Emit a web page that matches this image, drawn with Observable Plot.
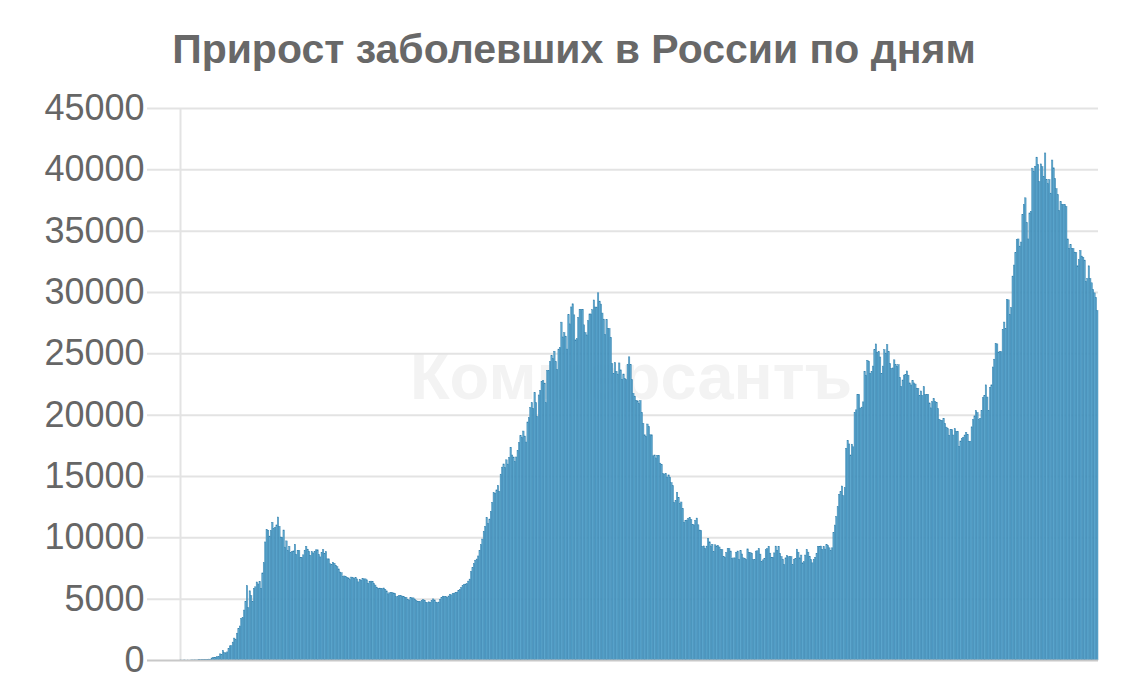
<!DOCTYPE html>
<html>
<head>
<meta charset="utf-8">
<script src="https://cdn.jsdelivr.net/npm/d3@7"></script>
<script src="https://cdn.jsdelivr.net/npm/@observablehq/plot@0.6"></script>
<style>
  html, body { margin: 0; padding: 0; background: #fff; }
  #title { height: 90px; box-sizing: border-box; padding-top: 29px; padding-left: 10px;
    text-align: center; font: bold 41px "Liberation Sans", Arial, sans-serif; color: #686868; line-height: 1; white-space: nowrap; }
  #chart svg { display: block; }
</style>
</head>
<body>
<div id="title">Прирост заболевших в России по дням</div>
<div id="chart"></div>
<script>
// Daily new COVID-19 cases in Russia, 3 Mar 2020 – 13 Dec 2021
const startDate = "2020-03-03";
const mar2020 = [3,0,1,4,0,3,0,3,8,6,14,4,15,30,21,33,52,54,53,61,71,57,163,182,196,228,270,302,500];
const apr2020 = [440,771,601,582,658,954,1154,1175,1459,1786,1667,2186,2558,2774,3388,3448,4070,4785,6060,4268,5642,5236,4774,5849,5966,6361,6198,6411,5841,7099];
const may2020 = [7933,9623,10633,10581,10102,10559,11231,10699,10817,11012,11656,10899,10028,9974,10598,9200,9709,8926,9263,8764,8849,8894,9434,8599,8946,8915,8338,8371,8572,8952,9268];
const jun2020 = [9035,8863,8536,8831,8726,8855,8984,8985,8595,8404,8779,8987,8706,8835,8246,8248,7843,7790,7972,7889,7728,7600,7425,7176,7113,6800,6852,6791,6719,6693];
const jul2020 = [6556,6760,6718,6632,6736,6611,6368,6562,6509,6635,6611,6615,6537,6248,6422,6428,6406,6234,6109,5940,5842,5862,5848,5811,5871,5765,5635,5395,5475,5509,5482];
const aug2020 = [5462,5427,5159,5204,5267,5241,5212,5189,5118,5102,4945,4890,5102,5061,5065,4969,4839,4748,4790,4767,4870,4921,4852,4696,4676,4744,4711,4829,4980,4897,4729];
const sep2020 = [4670,4729,4952,5110,5205,5195,5185,5099,5218,5363,5310,5406,5449,5509,5529,5670,5762,5905,6065,6148,6196,6215,6431,6595,7212,7523,7867,8135,8232,8481];
const oct2020 = [8945,9412,9859,10499,10888,11615,11115,11493,12126,12846,13634,13592,13868,14231,13754,15150,15722,15982,15700,16319,15971,16521,17340,16710,16550,16202,16550,17081,17717,18283,18140];
const nov2020 = [18665,18257,17768,19404,19768,20582,20977,20498,21798,20977,19851,21608,21983,22702,22778,22572,20977,23610,23610,24318,24822,24581,25173,24326,23675,25345,25487,27543,26338,26683];
const dec2020 = [26402,25345,28145,27403,28782,29039,28137,26097,26190,27927,28585,28585,28592,27328,26689,26502,27656,28214,28209,28552,29350,28776,28771,29935,29258,29018,28284,27787,26513,27747,27039];
const jan2021 = [27029,26301,24150,23351,24246,23541,23309,24217,23652,22851,23315,22934,22850,24092,24715,24092,22857,21734,21513,21152,21127,20921,21152,20182,19290,18359,18241,19238,19032,18359,18359];
const feb2021 = [16643,16714,16474,16688,16688,16048,15916,15185,15166,15211,14911,15090,14909,14457,14207,12828,12987,13663,13229,12742,12881,12354,11198,11359,11411,11534,11634,11452];
const mar2021 = [11024,11022,11385,11571,11022,10595,10565,9270,9299,9079,9284,9908,9634,9299,9437,8843,9393,9299,9341,9215,8991,8997,8457,8369,8769,9073,9088,8885,8277,8321,8328];
const apr2021 = [8789,8885,8174,8907,8646,8328,8294,8173,9060,8785,8763,8702,8173,8173,8878,8903,9092,8632,8053,8163,8271,8996,9072,9270,8711,8367,8380,8731,9284,8947];
const may2021 = [9270,8697,8434,8220,7770,8328,8522,8419,8419,8419,7770,8217,8280,9035,8790,8329,8554,7920,8019,8554,8998,8793,8442,8195,7920,8217,8373,8706,9270,9268,9289];
const jun2021 = [9022,9262,9038,9399,9327,9145,8947,9145,10407,11000,11699,12505,13510,13721,14185,13397,14057,17262,17906,17611,16715,17594,17378,20182,20393,21665,21650,20538,20616,21042];
const jul2021 = [23543,23218,24439,24353,23378,23510,23962,25293,25766,25082,25142,24702,23378,23962,25293,25018,25704,25140,24166,23771,23811,24471,24072,23947,24072,23032,22296,22827,23227,23270,23564];
const aug2021 = [23220,22589,22420,22804,22589,22498,22160,22144,21571,21932,21571,22277,21624,21624,21624,20958,20557,21058,21314,21058,20992,20493,19630,19509,19509,19706,19286,18984,18856,18325,18780];
const sep2021 = [18780,18341,18856,18645,18645,17425,17856,18066,18163,18341,18554,18380,17837,17837,19007,19594,19905,20329,20174,19594,19706,20329,21379,21559,22430,21438,20325,22236,22430,23888];
const oct2021 = [24522,25781,25769,25110,25133,25133,26965,27550,27019,29409,29362,28190,28717,31299,32196,33208,34303,34325,33740,34073,36339,37141,37678,35660,34325,36446,36582,40096,39849,40251,40993];
const nov2021 = [40402,39008,40443,40217,39400,41335,39165,38823,39160,38058,40759,40123,39256,38420,37930,36626,37374,37120,37156,37120,36970,34325,33558,33860,33558,33548,33249,33208,32136,32648];
const dec2021 = [33389,32930,32837,32602,30873,31096,32136,31096,30752,30209,29929,29558,28486];
const yTicks = [0,5000,10000,15000,20000,25000,30000,35000,40000,45000];
const watermark = "Коммерсантъ";

const values = [].concat(mar2020, apr2020, may2020, jun2020, jul2020, aug2020, sep2020, oct2020,
  nov2020, dec2020, jan2021, feb2021, mar2021, apr2021, may2021, jun2021, jul2021, aug2021,
  sep2021, oct2021, nov2021, dec2021);
const data = values.map((v, i) => ({i, v}));
const n = values.length;

const chart = Plot.plot({
  width: 1138,
  height: 586,
  marginLeft: 147,
  marginRight: 40,
  marginTop: 18,
  marginBottom: 16,
  style: {fontFamily: "'Liberation Sans', Arial, sans-serif", background: "#fff", color: "#666", overflow: "visible"},
  x: {domain: [-23.4, n], axis: null},
  y: {domain: [0, 45000], axis: null},
  marks: [
    Plot.text([watermark], {frameAnchor: "middle", dx: 8, dy: -6, fontSize: 65, fontWeight: "bold", fill: "#f3f3f3"}),
    Plot.ruleY(yTicks.filter(d => d > 0), {stroke: "#e3e3e3", strokeWidth: 2}),
    Plot.ruleX([0], {y1: 0, y2: 45000, stroke: "#e3e3e3", strokeWidth: 2}),
    Plot.rectY(data, {x1: "i", x2: d => d.i + 1, y: "v", fill: "#5ea8cf", stroke: "#3380ad", strokeWidth: 0.45}),
    Plot.ruleY([0], {stroke: "#c8c8c8", strokeWidth: 2}),
    Plot.axisY(yTicks, {label: null, tickSize: 0, tickPadding: 3, fontSize: 36, tickFormat: d => String(d)})
  ]
});
document.getElementById("chart").appendChild(chart);
</script>
</body>
</html>
